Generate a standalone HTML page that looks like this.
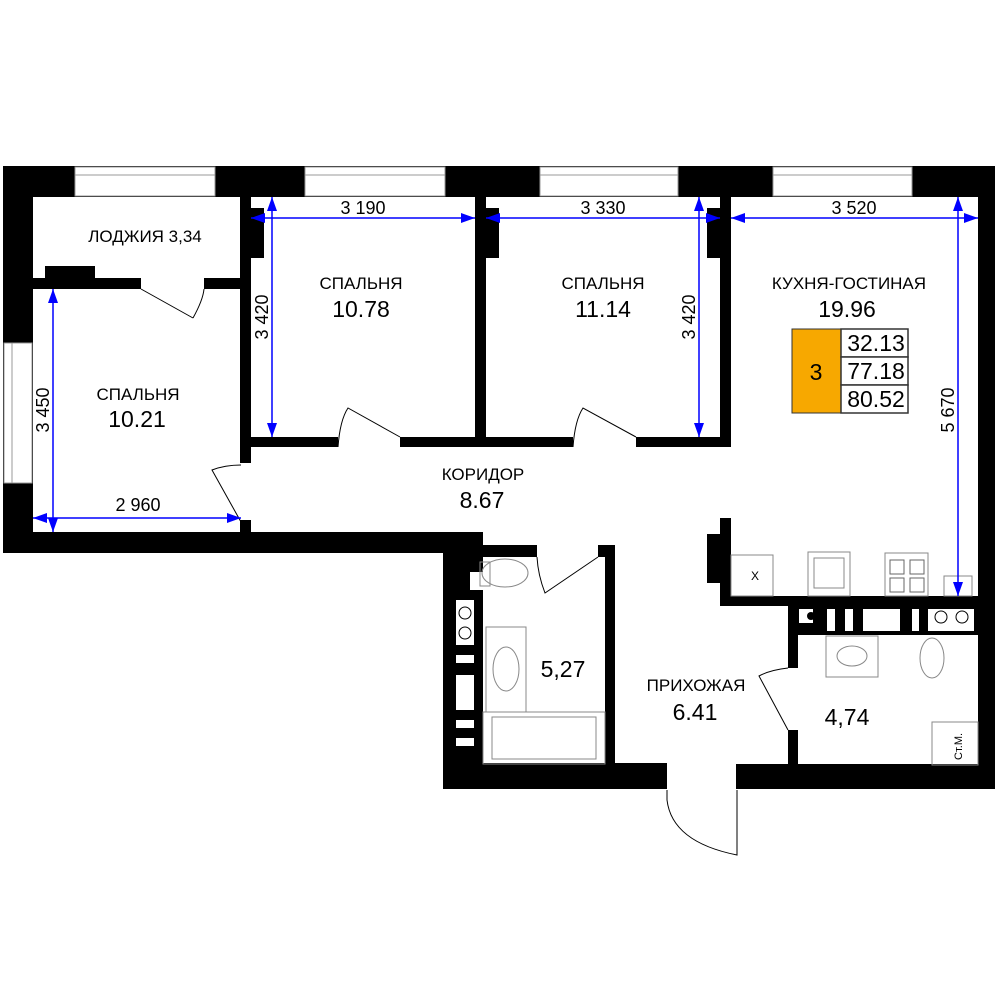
<!DOCTYPE html>
<html><head><meta charset="utf-8"><style>
html,body{margin:0;padding:0;background:#fff;}
svg{display:block;}
text{font-family:"Liberation Sans",sans-serif;fill:#000;}
</style></head><body>
<svg width="1000" height="1000" viewBox="0 0 1000 1000" xmlns="http://www.w3.org/2000/svg">
<g fill="#000">
<rect x="3" y="166" width="992" height="31"/>
<rect x="3" y="166" width="30" height="387"/>
<rect x="978" y="166" width="17" height="623"/>
<rect x="3" y="532" width="466" height="21"/>
<rect x="443" y="532" width="40" height="257"/>
<rect x="443" y="763" width="224" height="26"/>
<rect x="736" y="764" width="259" height="25"/>
<rect x="33" y="278" width="108" height="11"/>
<rect x="45" y="266" width="50" height="12"/>
<rect x="204" y="278" width="40" height="11"/>
<rect x="240" y="197" width="11" height="266"/>
<rect x="251" y="208" width="13" height="50"/>
<rect x="240" y="520" width="11" height="20"/>
<rect x="251" y="437" width="87" height="10"/>
<rect x="400" y="437" width="86" height="10"/>
<rect x="475" y="197" width="11" height="250"/>
<rect x="486" y="208" width="13" height="50"/>
<rect x="486" y="437" width="87" height="10"/>
<rect x="636" y="437" width="95" height="10"/>
<rect x="720" y="197" width="11" height="250"/>
<rect x="707" y="208" width="13" height="50"/>
<rect x="720" y="518" width="11" height="88"/>
<rect x="707" y="534" width="13" height="49"/>
<rect x="720" y="596" width="258" height="10"/>
<rect x="788" y="606" width="190" height="29"/>
<rect x="788" y="606" width="10" height="62"/>
<rect x="788" y="730" width="10" height="35"/>
<rect x="467" y="545" width="70" height="12"/>
<rect x="598" y="545" width="17" height="12"/>
<rect x="605" y="545" width="10" height="220"/>
</g>
<g fill="#fff">
<rect x="799" y="609" width="14" height="14"/>
<rect x="827" y="609" width="8" height="22"/>
<rect x="845" y="609" width="8" height="22"/>
<rect x="863" y="609" width="37" height="22"/>
<rect x="912" y="609" width="7" height="22"/>
<rect x="928" y="609" width="46" height="22"/>
<rect x="456" y="600" width="18" height="45"/>
<rect x="456" y="655" width="18" height="8"/>
<rect x="456" y="675" width="18" height="35"/>
<rect x="456" y="720" width="18" height="8"/>
<rect x="456" y="738" width="18" height="8"/>
<rect x="470" y="572" width="13" height="18"/>
</g>
<g fill="none" stroke="#000" stroke-width="1">
<circle cx="941" cy="617" r="6"/><circle cx="962" cy="617" r="6"/>
<circle cx="465" cy="613" r="6"/><circle cx="465" cy="633" r="6"/>
</g>
<circle cx="811" cy="616" r="4" fill="#000"/>
<g fill="#fff" stroke="#999" stroke-width="1">
<rect x="75" y="167" width="140" height="29"/>
<rect x="305" y="167" width="140" height="29"/>
<rect x="540" y="167" width="138" height="29"/>
<rect x="773" y="167" width="139" height="29"/>
<rect x="4" y="343" width="28" height="140"/>
</g>
<g stroke="#999" stroke-width="1" fill="none">
<path d="M75 175H215M305 175H445M540 175H678M773 175H912M12 343V483"/>
</g>
<g fill="none" stroke="#000" stroke-width="1">
<path d="M141 289 L193 318 M193 318 Q203 300 204 289"/>
<path d="M338 447 Q340 420 348 408 L400 437"/>
<path d="M573 447 Q575 420 583 408 L636 437"/>
<path d="M241 465 Q225 465 212 470 L241 522"/>
<path d="M537 557 Q538 575 545 593 L598 557"/>
<path d="M788 668 Q770 670 759 676 L788 730"/>
<path d="M667 790 L667 800 Q672 842 737 855 L737 790"/>
</g>
<g fill="none" stroke="#888" stroke-width="1">
<rect x="486" y="627" width="40" height="85"/>
<ellipse cx="506" cy="669" rx="13" ry="22"/>
<rect x="483" y="712" width="122" height="52"/>
<rect x="492" y="717" width="104" height="42"/>
<ellipse cx="505" cy="573" rx="23" ry="14"/>
<rect x="480" y="562" width="10" height="24"/>
<rect x="826" y="636" width="52" height="41"/>
<ellipse cx="852" cy="656" rx="15" ry="10"/>
<ellipse cx="932" cy="658" rx="12" ry="20"/>
<rect x="932" y="722" width="46" height="43"/>
<rect x="731" y="555" width="42" height="41"/>
<rect x="808" y="552" width="42" height="44"/>
<rect x="814" y="558" width="30" height="30"/>
<rect x="885" y="553" width="43" height="43"/>
<rect x="944" y="576" width="28" height="20"/>
</g>
<g fill="none" stroke="#666" stroke-width="1">
<path d="M890 560h14v14h-14zM890 578h14v14h-14zM910 578h14v14h-14zM910 560h14v14h-14z"/>
</g>
<text x="755" y="580" font-size="12" fill="#555" text-anchor="middle">X</text>
<text x="0" y="0" font-size="11" fill="#666" transform="translate(962,760) rotate(-90)">Ст.М.</text>
<g stroke="#00f" stroke-width="1.5" fill="none">
<path d="M251 218H475M486 218H720M731 218H978"/>
<path d="M272 197V437M699 197V437M958 197V596M53 289V532M33 518H241"/>
</g>
<g fill="#00f">
<path d="M251 218l14-5v10zM475 218l-14-5v10zM486 218l14-5v10zM720 218l-14-5v10zM731 218l14-5v10zM978 218l-14-5v10z"/>
<path d="M272 197l-5 14h10zM272 437l-5-14h10zM699 197l-5 14h10zM699 437l-5-14h10zM958 197l-5 14h10zM958 596l-5-14h10zM53 289l-5 14h10zM53 532l-5-14h10zM33 518l14-5v10zM241 518l-14-5v10z"/>
</g>
<g font-size="18" text-anchor="middle">
<text x="363" y="214">3 190</text>
<text x="603" y="214">3 330</text>
<text x="854" y="214">3 520</text>
<text x="138" y="511">2 960</text>
<text transform="translate(268,317) rotate(-90)">3 420</text>
<text transform="translate(695,317) rotate(-90)">3 420</text>
<text transform="translate(954,410) rotate(-90)">5 670</text>
<text transform="translate(49,410) rotate(-90)">3 450</text>
</g>
<g text-anchor="middle">
<text x="145" y="242" font-size="17">ЛОДЖИЯ 3,34</text>
<text x="138" y="400" font-size="17">СПАЛЬНЯ</text>
<text x="137" y="427" font-size="23">10.21</text>
<text x="361" y="289" font-size="17">СПАЛЬНЯ</text>
<text x="361" y="317" font-size="23">10.78</text>
<text x="603" y="289" font-size="17">СПАЛЬНЯ</text>
<text x="603" y="317" font-size="23">11.14</text>
<text x="849" y="289" font-size="17">КУХНЯ-ГОСТИНАЯ</text>
<text x="847" y="317" font-size="23">19.96</text>
<text x="483" y="480" font-size="17">КОРИДОР</text>
<text x="482" y="508" font-size="23">8.67</text>
<text x="696" y="691" font-size="17">ПРИХОЖАЯ</text>
<text x="695" y="720" font-size="23">6.41</text>
<text x="563" y="677" font-size="23">5,27</text>
<text x="847" y="725" font-size="23">4,74</text>
</g>
<rect x="792" y="329" width="49" height="84" fill="#f7a800" stroke="#333" stroke-width="1"/>
<g fill="#fff" stroke="#333" stroke-width="1.5">
<rect x="841" y="329" width="67" height="28"/>
<rect x="841" y="357" width="67" height="28"/>
<rect x="841" y="385" width="67" height="28"/>
</g>
<g font-size="23" text-anchor="middle">
<text x="816" y="380">3</text>
<text x="876" y="351">32.13</text>
<text x="876" y="379">77.18</text>
<text x="876" y="407">80.52</text>
</g>
</svg>
</body></html>
